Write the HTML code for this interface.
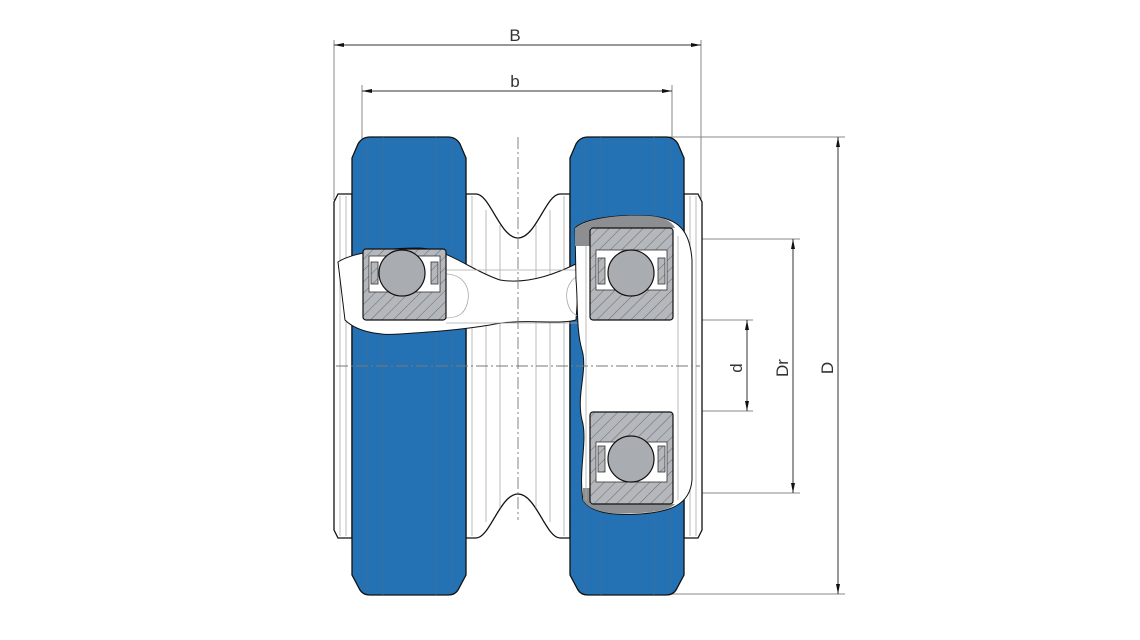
<!DOCTYPE html>
<html><head><meta charset="utf-8"><style>
html,body{margin:0;padding:0;background:#fff;}
svg{display:block;}
text{font-family:"Liberation Sans",sans-serif;fill:#333;}
</style></head><body>
<svg width="1140" height="640" viewBox="0 0 1140 640" xmlns="http://www.w3.org/2000/svg">
<defs>
<pattern id="hat" width="8" height="8" patternUnits="userSpaceOnUse" patternTransform="rotate(45)">
<rect width="8" height="8" fill="#b4b7bb"/><line x1="0" y1="0" x2="0" y2="8" stroke="#555" stroke-width="0.8"/>
</pattern>
<marker id="ar" markerWidth="10" markerHeight="6" refX="10" refY="3" orient="auto" markerUnits="userSpaceOnUse">
<path d="M0,1 L10,3 L0,5 Z" fill="#111"/></marker>
<marker id="al" markerWidth="10" markerHeight="6" refX="0" refY="3" orient="auto" markerUnits="userSpaceOnUse">
<path d="M10,1 L0,3 L10,5 Z" fill="#111"/></marker>
</defs>

<g stroke="#888" stroke-width="1">
<line x1="334" y1="40" x2="334" y2="200"/>
<line x1="701" y1="40" x2="701" y2="200"/>
<line x1="362" y1="85" x2="362" y2="140"/>
<line x1="672" y1="85" x2="672" y2="140"/>
<line x1="655" y1="137" x2="845" y2="137"/>
<line x1="655" y1="594" x2="845" y2="594"/>
<line x1="680" y1="239" x2="800" y2="239"/>
<line x1="680" y1="493" x2="800" y2="493"/>
<line x1="673" y1="320" x2="753" y2="320"/>
<line x1="673" y1="411" x2="753" y2="411"/>
</g>
<g stroke="#333" stroke-width="1">
<line x1="334" y1="45" x2="701" y2="45" marker-start="url(#al)" marker-end="url(#ar)"/>
<line x1="362" y1="91" x2="672" y2="91" marker-start="url(#al)" marker-end="url(#ar)"/>
<line x1="838" y1="137" x2="838" y2="594" marker-start="url(#al)" marker-end="url(#ar)"/>
<line x1="793" y1="239" x2="793" y2="493" marker-start="url(#al)" marker-end="url(#ar)"/>
<line x1="747" y1="320" x2="747" y2="411" marker-start="url(#al)" marker-end="url(#ar)"/>
</g>
<text x="515" y="41" font-size="17" text-anchor="middle">B</text>
<text x="515" y="87" font-size="17" text-anchor="middle">b</text>
<text transform="translate(833,368) rotate(-90)" font-size="17" text-anchor="middle">D</text>
<text transform="translate(788,368) rotate(-90)" font-size="17" text-anchor="middle">Dr</text>
<text transform="translate(742,368) rotate(-90)" font-size="17" text-anchor="middle">d</text>

<path d="M338,194 L352,194 L352,538 L338,538 L334,530 L334,202 Z" fill="#fff" stroke="#111" stroke-width="1.3"/>
<path d="M684,194 L698,194 L702,202 L702,530 L698,538 L684,538 Z" fill="#fff" stroke="#111" stroke-width="1.3"/>
<path d="M466,194 L476,194 C490,194 500,238 518,238 C536,238 546,194 560,194 L570,194 L570,538 L560,538 C546,538 536,494 518,494 C500,494 490,538 476,538 L466,538 Z" fill="#fff" stroke="#111" stroke-width="1.3"/>
<g stroke="#aaa" stroke-width="0.8">
<line x1="340" y1="196" x2="340" y2="536"/><line x1="346" y1="196" x2="346" y2="536"/>
<line x1="472" y1="196" x2="472" y2="536"/><line x1="486" y1="210" x2="486" y2="522"/>
<line x1="500" y1="225" x2="500" y2="508"/><line x1="536" y1="225" x2="536" y2="508"/>
<line x1="550" y1="210" x2="550" y2="522"/><line x1="564" y1="196" x2="564" y2="536"/>
<line x1="690" y1="196" x2="690" y2="536"/><line x1="696" y1="196" x2="696" y2="536"/>
</g>

<path d="M370,137 L448,137 Q456,137 460,144 L466,158 L466,575 L458,590 Q455,595 448,595 L370,595 Q363,595 360,590 L352,575 L352,158 L358,144 Q362,137 370,137 Z" fill="#2472b4" stroke="#111" stroke-width="1.3"/>
<path d="M588,137 L666,137 Q674,137 678,144 L684,158 L684,575 L676,590 Q673,595 666,595 L588,595 Q581,595 578,590 L570,575 L570,158 L576,144 Q580,137 588,137 Z" fill="#2472b4" stroke="#111" stroke-width="1.3"/>
<g stroke="#3d6e99" stroke-width="0.8">
<line x1="367" y1="140" x2="367" y2="593"/><line x1="383" y1="137" x2="383" y2="595"/>
<line x1="436" y1="137" x2="436" y2="595"/><line x1="452" y1="140" x2="452" y2="593"/>
<line x1="585" y1="140" x2="585" y2="593"/><line x1="601" y1="137" x2="601" y2="595"/>
<line x1="654" y1="137" x2="654" y2="595"/><line x1="670" y1="140" x2="670" y2="593"/>
</g>

<path d="M338,262 C350,254 380,248 420,248 C450,250 470,270 500,280 C530,285 560,272 580,262 L576,320 C560,325 520,318 490,325 C460,330 430,332 400,334 C375,336 355,330 345,320 Z" fill="#fff" stroke="#111" stroke-width="1"/>
<g stroke="#aaa" stroke-width="0.8" fill="none">
<path d="M445,274 C465,274 470,290 468,300 C466,312 460,318 446,318"/>
<path d="M588,274 C570,274 565,290 567,300 C569,312 575,318 590,318"/>
<line x1="446" y1="270" x2="590" y2="270"/><line x1="446" y1="323" x2="590" y2="323"/>
</g>
<rect x="363" y="249" width="83" height="71" rx="3" fill="url(#hat)" stroke="#111" stroke-width="1.2"/>
<rect x="369" y="256" width="71" height="36" fill="#fff" stroke="#333" stroke-width="0.8"/>
<rect x="371" y="262" width="7" height="22" fill="url(#hat)" stroke="#333" stroke-width="0.8"/>
<rect x="431" y="262" width="7" height="22" fill="url(#hat)" stroke="#333" stroke-width="0.8"/>
<circle cx="402" cy="273" r="23" fill="#a9adb2" stroke="#111" stroke-width="1.2"/>

<path d="M575,228 C585,218 620,214 650,216 C680,218 690,232 692,260 L692,480 C690,505 670,512 640,514 C610,516 590,512 583,500 C578,470 588,440 582,420 C576,395 588,370 582,350 C576,330 578,300 576,280 Z" fill="#fff" stroke="#111" stroke-width="1"/>
<path d="M575,228 C590,218 620,214 650,216 C665,217 672,222 675,228 L590,228 L590,246 L575,246 Z" fill="#8c8e91"/>
<path d="M583,488 L590,488 L590,504 L675,504 C670,510 655,512 640,513 C610,515 590,512 583,500 Z" fill="#8c8e91"/>
<g stroke="#aaa" stroke-width="0.8">
<line x1="586" y1="246" x2="586" y2="500"/><line x1="678" y1="236" x2="678" y2="500"/>
</g>
<rect x="590" y="228" width="83" height="92" rx="3" fill="url(#hat)" stroke="#111" stroke-width="1.2"/>
<rect x="596" y="250" width="71" height="40" fill="#fff" stroke="#333" stroke-width="0.8"/>
<rect x="598" y="258" width="7" height="26" fill="url(#hat)" stroke="#333" stroke-width="0.8"/>
<rect x="658" y="258" width="7" height="26" fill="url(#hat)" stroke="#333" stroke-width="0.8"/>
<circle cx="631" cy="273" r="23" fill="#a9adb2" stroke="#111" stroke-width="1.2"/>
<rect x="590" y="412" width="83" height="92" rx="3" fill="url(#hat)" stroke="#111" stroke-width="1.2"/>
<rect x="596" y="442" width="71" height="40" fill="#fff" stroke="#333" stroke-width="0.8"/>
<rect x="598" y="446" width="7" height="26" fill="url(#hat)" stroke="#333" stroke-width="0.8"/>
<rect x="658" y="446" width="7" height="26" fill="url(#hat)" stroke="#333" stroke-width="0.8"/>
<circle cx="631" cy="459" r="23" fill="#a9adb2" stroke="#111" stroke-width="1.2"/>

<g stroke="#777" stroke-width="0.9" stroke-dasharray="12,3,2,3" fill="none">
<line x1="518" y1="137" x2="518" y2="520"/>
<line x1="336" y1="366" x2="700" y2="366"/>
</g>
</svg>
</body></html>
